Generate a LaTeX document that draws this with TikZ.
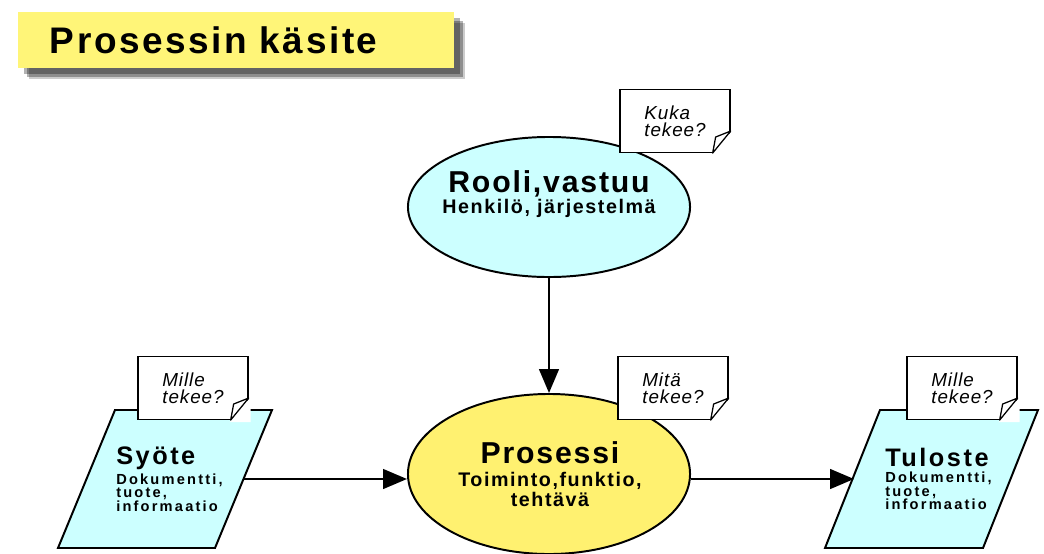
\documentclass[tikz,border=0pt]{standalone}
\usepackage{fontspec}
\setmainfont{Liberation Sans}
\usetikzlibrary{shapes.geometric,arrows.meta,shadows}

\definecolor{roleCyan}{RGB}{204,255,255}
\definecolor{procYellow}{RGB}{255,241,112}
\definecolor{titleYellow}{RGB}{255,245,120}

% fonts
\newcommand{\titleFont}{\bfseries\fontsize{26.3}{30}\selectfont\addfontfeature{LetterSpace=7}}
\newcommand{\ovalHead}{\bfseries\fontsize{21.5}{24}\selectfont\addfontfeature{LetterSpace=6}}
\newcommand{\ovalSub}{\bfseries\fontsize{14}{14}\selectfont\addfontfeature{LetterSpace=8}}
\newcommand{\slantHead}{\bfseries\fontsize{18}{19}\selectfont\addfontfeature{LetterSpace=10}}
\newcommand{\slantSub}{\bfseries\fontsize{10.4}{9.7}\selectfont\addfontfeature{LetterSpace=15}}
\newcommand{\noteFont}{\itshape\fontsize{13.4}{12.1}\selectfont\addfontfeature{LetterSpace=5}}

\tikzset{
  shape line/.style={draw=black, line width=1.4pt},
  oval/.style={shape line, ellipse, minimum width=7.05cm, inner sep=0pt},
  slant/.style={shape line, fill=roleCyan, line join=miter},
  note/.style={draw=black, line width=0.9pt, fill=white, minimum width=2.75cm, minimum height=1.57cm,
    inner sep=0pt, align=left, font=\noteFont},
  label text/.style={inner sep=0pt, align=center},
  flow/.style={line width=1.6pt, -{Triangle[length=17pt,width=14pt]}}
}

\begin{document}
\begin{tikzpicture}[x=0.025cm, y=-0.025cm]
    \useasboundingbox (0,0) rectangle (1044,553);
    % Title:
    \node[fill=titleYellow,
      drop shadow={shadow xshift=0.16cm, shadow yshift=-0.16cm, fill=black, opacity=0.3},
      drop shadow={shadow xshift=0.22cm, shadow yshift=-0.22cm, fill=black, opacity=0.3},
      drop shadow={shadow xshift=0.28cm, shadow yshift=-0.28cm, fill=black, opacity=0.2},
      text width=9.3cm, inner xsep=0.8cm, minimum height=1.4cm, align=left, font=\titleFont]
      (title) at (236,40) {Prosessin käsite};
    % Shapes:
    \node[oval, fill=roleCyan, minimum height=3.5cm] (rooli) at (549,207) {};
    \node[oval, fill=procYellow, minimum height=4cm] (prosessi) at (549,474) {};
    \draw[slant] (58,548) -- (215,548) -- (272,410) -- (115,410) -- cycle;
    \draw[slant] (825,548) -- (983,548) -- (1038,410) -- (880,410) -- cycle;
    \coordinate (syoteOut) at (244,479);
    \coordinate (tulosteIn) at (854,479);
    % Texts:
    \node[label text] (rooliText) at (549,194) {{\ovalHead Rooli,vastuu}\\{\ovalSub Henkilö, järjestelmä}};
    \node[label text, font=\ovalSub] (prosessiText) at (550,474)
      {{\ovalHead Prosessi}\\[3pt]Toiminto,funktio,\\tehtävä};
    \node[label text, align=left, anchor=west, font=\slantSub] (syoteText) at (116,479)
      {{\slantHead Syöte}\\[2pt]Dokumentti,\\tuote,\\informaatio};
    \node[label text, align=left, anchor=west, font=\slantSub] (tulosteText) at (885,479)
      {{\slantHead Tuloste}\\[2pt]Dokumentti,\\tuote,\\informaatio};
    % Connectors:
    \draw[flow] (rooli) -- (prosessi);
    \draw[flow] (syoteOut) -- (syoteOut -| prosessi.west);
    \draw[flow] (tulosteIn -| prosessi.east) -- (tulosteIn);
    % Notes:
    \node[note] (kuka) at (675,121) {Kuka\\tekee?};
    \node[note] (mita) at (673,388) {Mitä\\tekee?};
    \node[note] (milleIn) at (193,388) {Mille\\tekee?};
    \node[note] (milleOut) at (962,388) {Mille\\tekee?};
    \foreach \n in {kuka,mita,milleIn,milleOut} {
      \fill[white] ([shift={(-19,2)}]\n.south east) -- ([shift={(2,2)}]\n.south east)
        -- ([shift={(2,-23)}]\n.south east) -- cycle;
      \draw[line width=0.9pt, fill=white, line join=round] ([shift={(-18,0)}]\n.south east)
        -- ([shift={(0,-22)}]\n.south east) -- ([shift={(-15,-16)}]\n.south east) -- cycle;
    }
  \end{tikzpicture}
\end{document}
